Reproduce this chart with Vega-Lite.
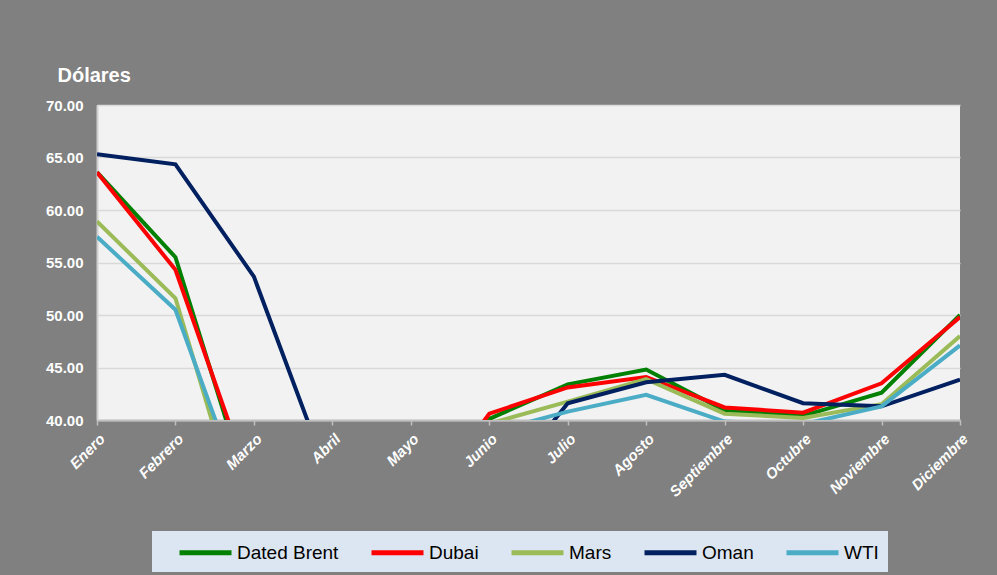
{
  "$schema": "https://vega.github.io/schema/vega-lite/v6.json",
  "width": 863,
  "height": 315,
  "autosize": {"type": "none"},
  "padding": {"left": 97, "top": 105, "right": 37, "bottom": 155},
  "background": "#808080",
  "config": {"view": {"fill": "#f2f2f2", "stroke": null}, "font": "Liberation Sans"},
  "data": {"values": [
    {"mes": "Enero", "serie": "Dated Brent", "precio": 63.6},
    {"mes": "Febrero", "serie": "Dated Brent", "precio": 55.5},
    {"mes": "Marzo", "serie": "Dated Brent", "precio": 31.5},
    {"mes": "Abril", "serie": "Dated Brent", "precio": 18.5},
    {"mes": "Mayo", "serie": "Dated Brent", "precio": 29.4},
    {"mes": "Junio", "serie": "Dated Brent", "precio": 40.1},
    {"mes": "Julio", "serie": "Dated Brent", "precio": 43.4},
    {"mes": "Agosto", "serie": "Dated Brent", "precio": 44.8},
    {"mes": "Septiembre", "serie": "Dated Brent", "precio": 40.9},
    {"mes": "Octubre", "serie": "Dated Brent", "precio": 40.4},
    {"mes": "Noviembre", "serie": "Dated Brent", "precio": 42.6},
    {"mes": "Diciembre", "serie": "Dated Brent", "precio": 50.0},
    {"mes": "Enero", "serie": "Dubai", "precio": 63.6},
    {"mes": "Febrero", "serie": "Dubai", "precio": 54.3},
    {"mes": "Marzo", "serie": "Dubai", "precio": 33.0},
    {"mes": "Abril", "serie": "Dubai", "precio": 20.4},
    {"mes": "Mayo", "serie": "Dubai", "precio": 30.5},
    {"mes": "Junio", "serie": "Dubai", "precio": 40.6},
    {"mes": "Julio", "serie": "Dubai", "precio": 43.1},
    {"mes": "Agosto", "serie": "Dubai", "precio": 44.1},
    {"mes": "Septiembre", "serie": "Dubai", "precio": 41.2},
    {"mes": "Octubre", "serie": "Dubai", "precio": 40.7},
    {"mes": "Noviembre", "serie": "Dubai", "precio": 43.5},
    {"mes": "Diciembre", "serie": "Dubai", "precio": 49.8},
    {"mes": "Enero", "serie": "Mars", "precio": 58.9},
    {"mes": "Febrero", "serie": "Mars", "precio": 51.6},
    {"mes": "Marzo", "serie": "Mars", "precio": 26.5},
    {"mes": "Abril", "serie": "Mars", "precio": 16.5},
    {"mes": "Mayo", "serie": "Mars", "precio": 25.0},
    {"mes": "Junio", "serie": "Mars", "precio": 39.65},
    {"mes": "Julio", "serie": "Mars", "precio": 41.75},
    {"mes": "Agosto", "serie": "Mars", "precio": 43.9},
    {"mes": "Septiembre", "serie": "Mars", "precio": 40.6},
    {"mes": "Octubre", "serie": "Mars", "precio": 40.2},
    {"mes": "Noviembre", "serie": "Mars", "precio": 41.5},
    {"mes": "Diciembre", "serie": "Mars", "precio": 48.0},
    {"mes": "Enero", "serie": "Oman", "precio": 65.3},
    {"mes": "Febrero", "serie": "Oman", "precio": 64.35},
    {"mes": "Marzo", "serie": "Oman", "precio": 53.65},
    {"mes": "Abril", "serie": "Oman", "precio": 33.6},
    {"mes": "Mayo", "serie": "Oman", "precio": 23.5},
    {"mes": "Junio", "serie": "Oman", "precio": 32.2},
    {"mes": "Julio", "serie": "Oman", "precio": 41.6},
    {"mes": "Agosto", "serie": "Oman", "precio": 43.6},
    {"mes": "Septiembre", "serie": "Oman", "precio": 44.3},
    {"mes": "Octubre", "serie": "Oman", "precio": 41.6},
    {"mes": "Noviembre", "serie": "Oman", "precio": 41.3},
    {"mes": "Diciembre", "serie": "Oman", "precio": 43.85},
    {"mes": "Enero", "serie": "WTI", "precio": 57.45},
    {"mes": "Febrero", "serie": "WTI", "precio": 50.5},
    {"mes": "Marzo", "serie": "WTI", "precio": 29.9},
    {"mes": "Abril", "serie": "WTI", "precio": 16.6},
    {"mes": "Mayo", "serie": "WTI", "precio": 28.6},
    {"mes": "Junio", "serie": "WTI", "precio": 38.8},
    {"mes": "Julio", "serie": "WTI", "precio": 40.8},
    {"mes": "Agosto", "serie": "WTI", "precio": 42.4},
    {"mes": "Septiembre", "serie": "WTI", "precio": 39.85},
    {"mes": "Octubre", "serie": "WTI", "precio": 39.6},
    {"mes": "Noviembre", "serie": "WTI", "precio": 41.3},
    {"mes": "Diciembre", "serie": "WTI", "precio": 47.1}
  ]},
  "mark": {"type": "line", "clip": true, "strokeWidth": 4},
  "encoding": {
    "x": {
      "field": "mes", "type": "ordinal",
      "sort": ["Enero", "Febrero", "Marzo", "Abril", "Mayo", "Junio", "Julio", "Agosto", "Septiembre", "Octubre", "Noviembre", "Diciembre"],
      "scale": {"type": "point", "padding": 0},
      "axis": {
        "title": null, "labelAngle": -45, "labelColor": "white", "labelFontWeight": "bold",
        "labelFontStyle": "italic", "labelFontSize": 15, "labelPadding": 6,
        "domainColor": "#bfbfbf", "domainWidth": 2, "tickColor": "#bfbfbf", "tickSize": 5, "tickWidth": 1.5,
        "grid": false
      }
    },
    "y": {
      "field": "precio", "type": "quantitative",
      "scale": {"domain": [40, 70], "nice": false, "zero": false},
      "axis": {
        "values": [40, 45, 50, 55, 60, 65, 70], "format": ".2f",
        "grid": true, "gridColor": "#d9d9d9", "gridWidth": 1.5,
        "domainColor": "#d0d0d0", "domainWidth": 2, "ticks": false,
        "labelColor": "white", "labelFontWeight": "bold", "labelFontSize": 15, "labelPadding": 14,
        "title": "Dólares", "titleAngle": 0, "titleX": -40, "titleY": -30,
        "titleAlign": "left", "titleBaseline": "middle", "titleColor": "white",
        "titleFontSize": 20, "titleFontWeight": "bold"
      }
    },
    "color": {
      "field": "serie", "type": "nominal",
      "scale": {"domain": ["Dated Brent", "Dubai", "Mars", "Oman", "WTI"], "range": ["#008000", "#ff0000", "#9bbb59", "#002060", "#4bacc6"]},
      "legend": {
        "title": null, "orient": "none", "legendX": 55, "legendY": 426, "direction": "horizontal",
        "fillColor": "#dce6f2", "padding": 9, "symbolType": "M0.6,0H5.8", "symbolSize": 400,
        "symbolStrokeWidth": 5, "labelFontSize": 19, "labelColor": "black", "labelOffset": 51,
        "columnPadding": 14
      }
    }
  }
}
